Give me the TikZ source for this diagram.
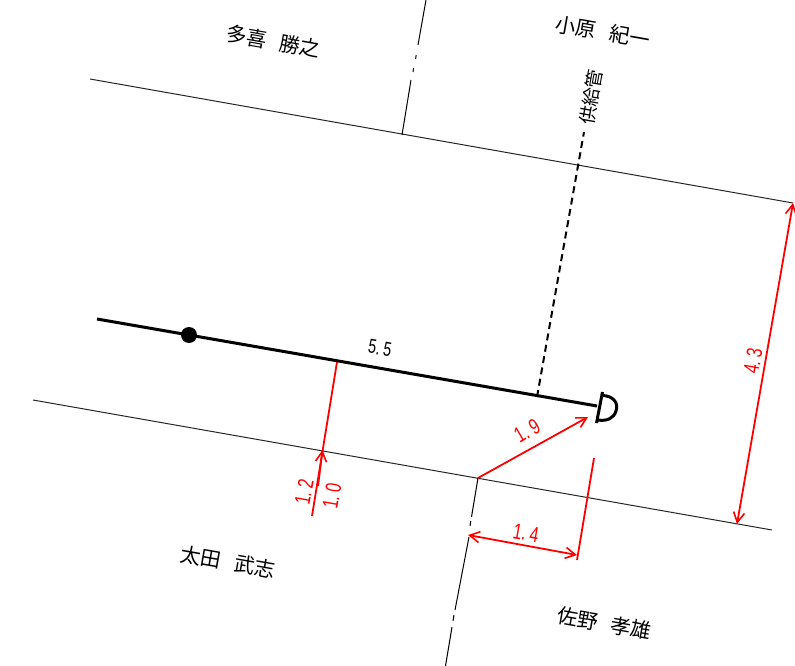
\documentclass[tikz,border=0pt]{standalone}
\usepackage{fontspec}
\usetikzlibrary{arrows.meta}
\newfontfamily\jpf{Noto Sans CJK JP}
\newfontfamily\numf[FakeStretch=0.72]{Liberation Sans}
\tikzset{
 x=1pt,y=-1pt,
 thinline/.style={draw=black!85,line width=1pt},
 boundline/.style={draw=black,line width=1pt},
 mainline/.style={draw=black,line width=3pt},
 redl/.style={draw=red,line width=1.8pt},
 redtip/.style={-{Straight Barb[length=10pt,width=11pt,line width=1.6pt]}},
 redtips/.style={{Straight Barb[length=10pt,width=11pt,line width=1.6pt]}-{Straight Barb[length=10pt,width=11pt,line width=1.6pt]}},
 ownername/.style={font=\jpf\fontsize{20.5}{21}\selectfont,inner sep=0pt,rotate=-10},
 numlabel/.style={font=\numf\fontsize{22}{22}\selectfont,inner sep=0pt,text=red},
}
\begin{document}
\begin{tikzpicture}
\useasboundingbox (0,0) rectangle (795,666);
% coordinates
\coordinate (tl) at (90,79);
\coordinate (tr) at (793,203);
\coordinate (bl) at (33,400);
\coordinate (br) at (772,530);
\coordinate (ub0) at (402,135);
\coordinate (ub1) at (411,80);
\coordinate (ub2) at (413,72);
\coordinate (ub3) at (413.6,68);
\coordinate (ub4) at (415.6,59);
\coordinate (ub5) at (416.2,55);
\coordinate (ub6) at (418,45);
\coordinate (ub7) at (426,0);
\coordinate (lb0) at (478,478);
\coordinate (lb1) at (471.5,517);
\coordinate (lb2) at (470.8,521);
\coordinate (lb3) at (470,526);
\coordinate (lb4) at (469,537);
\coordinate (lb5) at (455,610);
\coordinate (lb6) at (454,615);
\coordinate (lb7) at (453,621);
\coordinate (lb8) at (452,627);
\coordinate (lb9) at (445.5,666);
\coordinate (m0) at (97,319);
\coordinate (m1) at (597,406);
\coordinate (c0) at (602.5,392);
\coordinate (c1) at (596.5,423);
\coordinate (s0) at (537,397);
\coordinate (s1) at (584,132);
\coordinate (r0) at (337,362);
\coordinate (r1) at (312,516);
\coordinate (ra0) at (318,486);
\coordinate (ra1) at (322.5,450);
\coordinate (d0) at (588,417);
\coordinate (e0) at (468,535);
\coordinate (e1) at (577,555);
\coordinate (f0) at (594,458);
\coordinate (f1) at (577,560);
\coordinate (g0) at (793,203);
\coordinate (g1) at (737,524);
% thin lines
\draw[thinline] (tl) -- (tr);
\draw[thinline] (bl) -- (br);
\draw[boundline] (ub0) -- (ub1) (ub2) -- (ub3) (ub4) -- (ub5) (ub6) -- (ub7);
\draw[boundline] (lb0) -- (lb1) (lb2) -- (lb3) (lb4) -- (lb5) (lb6) -- (lb7) (lb8) -- (lb9);
% main
\draw[mainline] (m0) -- (m1);
\fill[black] (189,335) circle (8);
\draw[mainline] (c0) -- (c1);
\draw[draw=black,line width=3pt] (602,395.5) .. controls (613,395.5) and (619,403) .. (616,411) .. controls (614,418) and (607,421.5) .. (598,420);
\draw[draw=black,line width=2pt,dash pattern=on 7pt off 4.5pt] (s0) -- (s1);
% red
\draw[redl] (r0) -- (r1);
\draw[redl,redtip] (ra0) -- (ra1);
\draw[redl,redtip] (lb0) -- (d0);
\draw[redl,redtips] (e0) -- (e1);
\draw[redl] (f0) -- (f1);
\draw[redl,redtips] (g0) -- (g1);
% labels
\node[ownername] (n1) at (273.5,41.5) {多喜\hspace{0.65em}勝之};
\node[ownername] (n2) at (603,32) {小原\hspace{0.65em}紀一};
\node[ownername] (n3) at (228,562) {太田\hspace{0.65em}武志};
\node[ownername] (n4) at (604.5,623.5) {佐野\hspace{0.65em}孝雄};
\node[ownername,rotate=90,font=\jpf\fontsize{18.5}{19}\selectfont] (n5) at (591,97) {供給管};
\node[font=\numf\fontsize{20}{20}\selectfont,inner sep=0pt,rotate=-10] (l1) at (380,348) {5.\,5};
\node[numlabel,rotate=80] (l2) at (304,492) {1.\,2};
\node[numlabel,rotate=80] (l3) at (332,496) {1.\,0};
\node[numlabel,rotate=30] (l4) at (527,431) {1.\,9};
\node[numlabel,rotate=-10] (l5) at (526,533) {1.\,4};
\node[numlabel,rotate=80] (l6) at (753,361) {4.\,3};
\end{tikzpicture}
\end{document}
